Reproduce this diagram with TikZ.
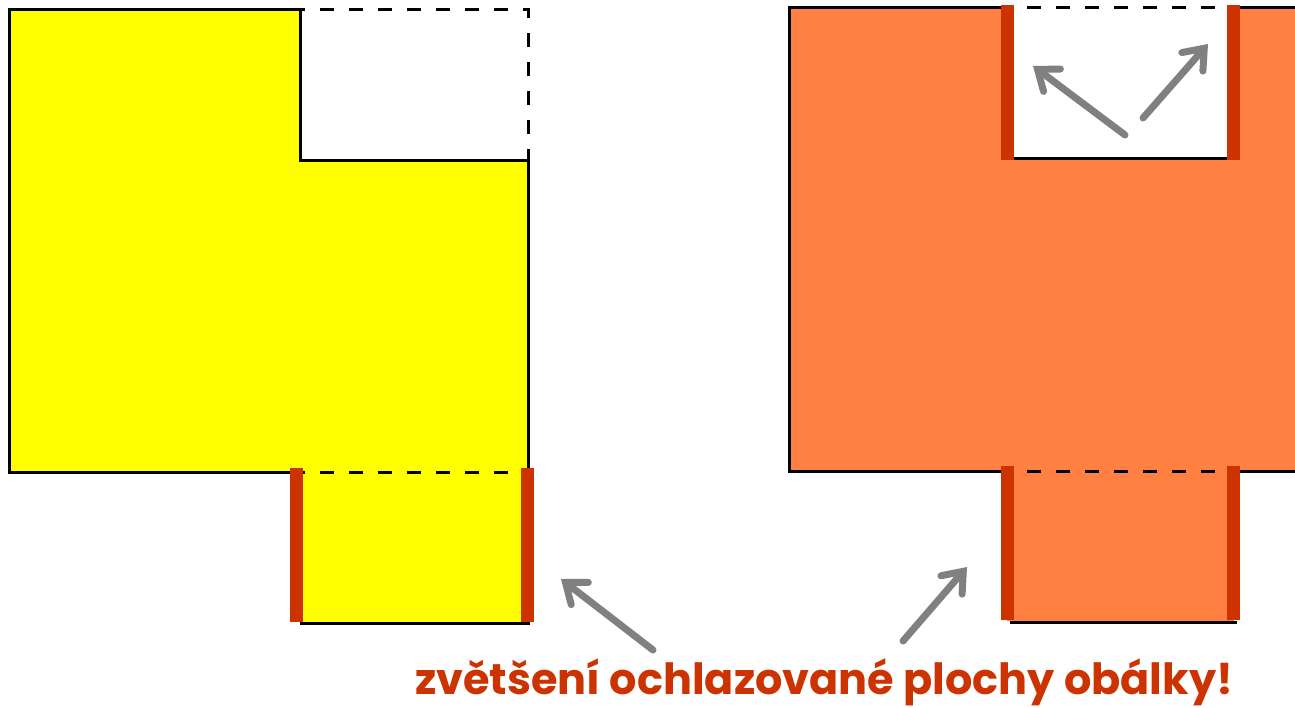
\documentclass[tikz,border=0pt]{standalone}
\usepackage{fontspec}
\setmainfont{Poppins}
\usetikzlibrary{arrows.meta}
\definecolor{myyellow}{HTML}{FFFF00}
\definecolor{myorange}{HTML}{FF8040}
\definecolor{myred}{HTML}{CC3300}
\definecolor{mygray}{HTML}{808080}
\begin{document}
\begin{tikzpicture}[x=1pt,y=-1pt,
  outline/.style={draw=black,line width=3pt},
  dashline/.style={draw=black,line width=3pt,dash pattern=on 14pt off 15pt,dash phase=-20pt},
  redside/.style={draw=myred,line width=13pt},
  pointer/.style={draw=mygray,line width=7pt,line cap=round,-{Straight Barb[length=18pt,width=28pt,line cap=round]}}]
\useasboundingbox (0,0) rectangle (1295,707);
% left (yellow) shape
\fill[myyellow] (9,9) -- (300,9) -- (300,160) -- (528,160) -- (528,623) -- (300,623) -- (300,472) -- (9,472) -- cycle;
\draw[outline,line join=miter] (300,472) -- (9,472) -- (9,9) -- (300,9) -- (300,160) -- (528,160) -- (528,472);
\draw[outline] (300,623) -- (530,623);
\draw[dashline] (300,472) -- (528,472);
\draw[dashline] (300,9) -- (528,9) -- (528,160);
\draw[redside] (296,468) -- (296,622);
\draw[redside] (527,468) -- (527,622);
% right (orange) shape
\fill[myorange] (789,7) -- (1007,7) -- (1007,158) -- (1234,158) -- (1234,7) -- (1300,7) -- (1300,471) -- (1234,471) -- (1234,621) -- (1007,621) -- (1007,471) -- (789,471) -- cycle;
\draw[outline,line join=miter] (1007,7) -- (789,7) -- (789,471) -- (1007,471);
\draw[outline] (1234,7) -- (1300,7);
\draw[outline] (1234,471) -- (1300,471);
\draw[outline] (1007,158) -- (1234,158);
\draw[outline] (1010,622) -- (1237,622);
\draw[dashline] (1007,7) -- (1234,7);
\draw[dashline] (1007,471) -- (1234,471);
\draw[redside] (1007,5) -- (1007,160);
\draw[redside] (1233.5,5) -- (1233.5,160);
\draw[redside] (1007,466) -- (1007,620);
\draw[redside] (1233.5,466) -- (1233.5,620);
% arrows
\coordinate (a1s) at (1125,135); \coordinate (a1e) at (1033,66);
\coordinate (a2s) at (1143,118); \coordinate (a2e) at (1208,44);
\coordinate (a3s) at (653,650);  \coordinate (a3e) at (561,579);
\coordinate (a4s) at (903,641);  \coordinate (a4e) at (967,567);
\draw[pointer] (a1s) -- (a1e);
\draw[pointer] (a2s) -- (a2e);
\draw[pointer] (a3s) -- (a3e);
\draw[pointer] (a4s) -- (a4e);
% caption
\node[anchor=base west,inner sep=0pt,text=myred,font=\bfseries\fontsize{43}{43}\selectfont] (caption) at (415,694) {zvětšení ochlazované plochy obálky!};
\end{tikzpicture}
\end{document}
